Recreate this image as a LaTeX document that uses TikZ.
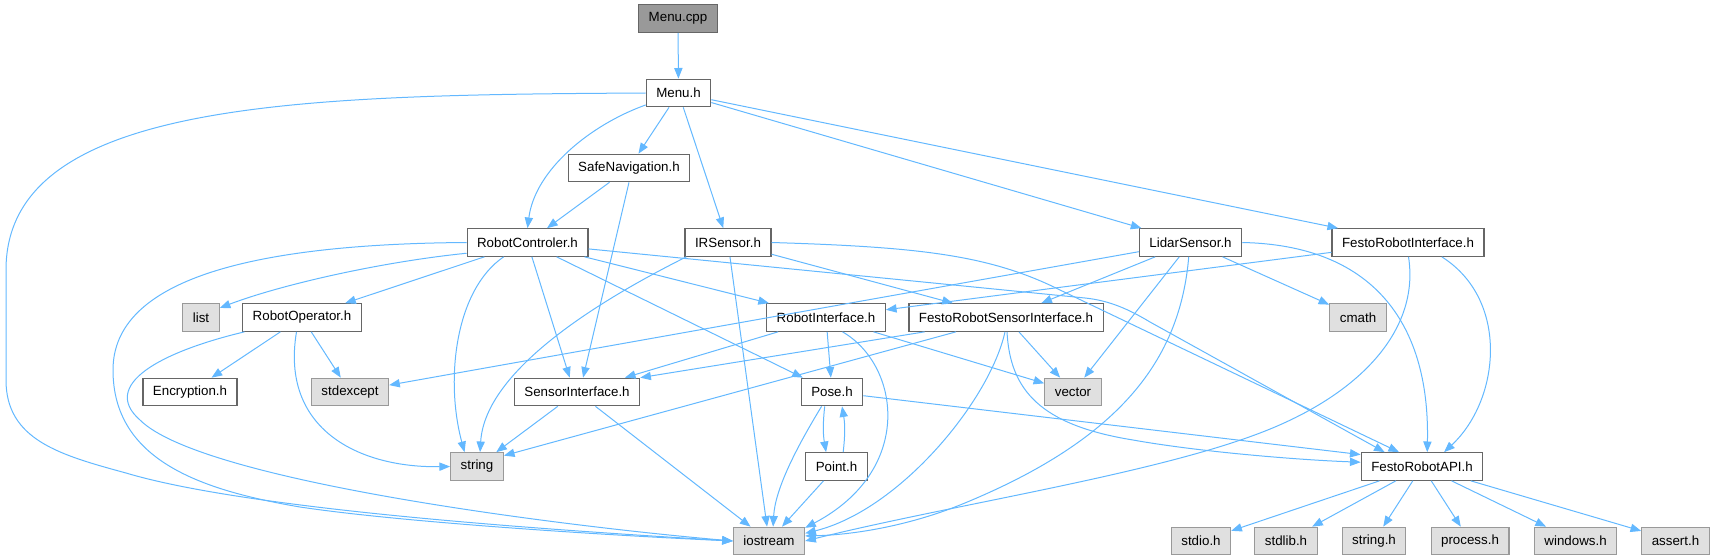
\documentclass[tikz,border=0pt]{standalone}
\usepackage{fontspec}
\setmainfont{Liberation Sans}
\usetikzlibrary{arrows.meta}

\definecolor{depblue}{HTML}{63B8FF}
\definecolor{boxline}{HTML}{666666}
\definecolor{sysline}{HTML}{999999}
\definecolor{sysfill}{HTML}{E0E0E0}
\definecolor{rootfill}{HTML}{999999}

\tikzset{
  hfile/.style={draw=boxline, fill=white, line width=0.9pt, minimum height=20.6pt,
    inner xsep=7.5pt, inner ysep=0pt, font=\fontsize{10}{12}\selectfont},
  sysfile/.style={hfile, draw=sysline, fill=sysfill},
  rootfile/.style={hfile, fill=rootfill},
  dep/.style={draw=depblue, line width=0.75pt, -{Triangle[length=8pt,width=6.2pt]}},
}

\begin{document}
\begin{tikzpicture}[x=0.75pt, y=-0.75pt]
\useasboundingbox (0,0) rectangle (1716,560);

\node[rootfile] (menucpp) at (678,18.5) {Menu.cpp};
\node[hfile] (menuh) at (678.5,93) {Menu.h};
\node[hfile] (safenav) at (629,168) {SafeNavigation.h};
\node[hfile] (robotctrl) at (527.5,242.5) {RobotControler.h};
\node[hfile] (irsensor) at (728,242.5) {IRSensor.h};
\node[hfile] (lidar) at (1190.5,242.5) {LidarSensor.h};
\node[hfile] (festoif) at (1408,242.5) {FestoRobotInterface.h};
\node[sysfile] (list) at (201,317.5) {list};
\node[hfile] (robotop) at (302,317.5) {RobotOperator.h};
\node[hfile] (robotif) at (826,317.5) {RobotInterface.h};
\node[hfile] (festosensif) at (1006,317.5) {FestoRobotSensorInterface.h};
\node[sysfile] (cmath) at (1358,317.5) {cmath};
\node[hfile] (encryption) at (190,392) {Encryption.h};
\node[sysfile] (stdexcept) at (350,392) {stdexcept};
\node[hfile] (sensorif) at (577,392) {SensorInterface.h};
\node[hfile] (pose) at (832,392) {Pose.h};
\node[sysfile] (vector) at (1073,392) {vector};
\node[sysfile] (string) at (477,466.5) {string};
\node[hfile] (point) at (836.5,466.5) {Point.h};
\node[hfile] (festoapi) at (1422,466.5) {FestoRobotAPI.h};
\node[sysfile] (iostream) at (769,541) {iostream};
\node[sysfile] (stdio) at (1201,541) {stdio.h};
\node[sysfile] (stdlib) at (1286,541) {stdlib.h};
\node[sysfile] (stringh) at (1374,541) {string.h};
\node[sysfile] (process) at (1470,541) {process.h};
\node[sysfile] (windows) at (1575.6,541) {windows.h};
\node[sysfile] (assert) at (1675.5,541) {assert.h};

\draw[dep] (menucpp) -- (menuh);
\draw[dep] (menuh.west) .. controls (300,95) and (6,100) .. (6,270) -- (6,380)
  .. controls (6,440) and (60,455) .. (126,473) .. controls (250,510) and (550,530) .. (iostream.west);
\draw[dep] (menuh.200) .. controls (590,125) and (535,170) .. (robotctrl.north);
\draw[dep] (menuh) -- (safenav);
\draw[dep] (menuh) -- (irsensor);
\draw[dep] (menuh) -- (lidar);
\draw[dep] (menuh) -- (festoif);

\draw[dep] (safenav) -- (robotctrl);
\draw[dep] (safenav.south) -- (sensorif.67);

\draw[dep] (robotctrl.west) .. controls (250,244) and (113,280) .. (113,370)
  .. controls (113,460) and (200,490) .. (300,507) .. controls (400,522) and (600,535) .. (iostream.west);
\draw[dep] (robotctrl.190) .. controls (380,262) and (280,285) .. (list.27);
\draw[dep] (robotctrl) -- (robotop);
\draw[dep] (robotctrl.211) .. controls (455,290) and (445,380) .. (string.131);
\draw[dep] (robotctrl.287) -- (sensorif.117);
\draw[dep] (robotctrl) -- (pose);
\draw[dep] (robotctrl) -- (robotif);
\draw[dep] (robotctrl.354) -- (1085,298) .. controls (1110,300.5) and (1130,310) .. (1150,322) -- (festoapi.159);

\draw[dep] (irsensor.east) .. controls (920,247) and (990,255) .. (1060,290) -- (festoapi.148);
\draw[dep] (irsensor.199) .. controls (600,300) and (485,370) .. (string.78);
\draw[dep] (irsensor) -- (iostream);
\draw[dep] (irsensor) -- (festosensif);

\draw[dep] (lidar) -- (stdexcept);
\draw[dep] (lidar) -- (festosensif);
\draw[dep] (lidar) -- (cmath);
\draw[dep] (lidar) -- (vector);
\draw[dep] (lidar.263) .. controls (1180,360) and (1120,440) .. (960,505)
  .. controls (905,527) and (850,535) .. (iostream.8);
\draw[dep] (lidar.east) .. controls (1370,245) and (1430,320) .. (festoapi.70);

\draw[dep] (festoif) -- (robotif);
\draw[dep] (festoif.337) .. controls (1510,300) and (1500,400) .. (festoapi.33);
\draw[dep] (festoif.272) .. controls (1420,330) and (1360,395) .. (1260,433)
  .. controls (1150,475) and (950,505) .. (iostream.east);

\draw[dep] (robotop) -- (encryption);
\draw[dep] (robotop) -- (stdexcept);
\draw[dep] (robotop.249) .. controls (280,430) and (360,468) .. (string.west);
\draw[dep] (robotop.194) .. controls (160,352) and (100,385) .. (140,420)
  .. controls (200,480) and (550,525) .. (iostream.west);

\draw[dep] (robotif) -- (sensorif);
\draw[dep] (robotif) -- (pose);
\draw[dep] (robotif) -- (vector);
\draw[dep] (robotif.319) .. controls (900,365) and (915,470) .. (iostream.20);

\draw[dep] (festosensif.190) -- (sensorif.north east);
\draw[dep] (festosensif.196) -- (string.22);
\draw[dep] (festosensif) -- (vector);
\draw[dep] (festosensif.266) .. controls (990,400) and (900,510) .. (iostream.12);
\draw[dep] (festosensif.274) .. controls (1010,390) and (1040,425) .. (1133,440)
  .. controls (1200,452) and (1300,460) .. (festoapi.176);

\draw[dep] (sensorif) -- (string);
\draw[dep] (sensorif) -- (iostream);

\draw[dep] (pose) -- (festoapi.169);
\draw[dep] (pose.234) .. controls (795,450) and (775,490) .. (iostream.74);
\draw[dep] (pose.243) to[bend right=8] (point.126);
\draw[dep] (point.65) to[bend right=8] (pose.305);
\draw[dep] (point) -- (iostream);

\foreach \h in {stdio,stdlib,stringh,process,windows,assert}
  \draw[dep] (festoapi) -- (\h);
\end{tikzpicture}
\end{document}
